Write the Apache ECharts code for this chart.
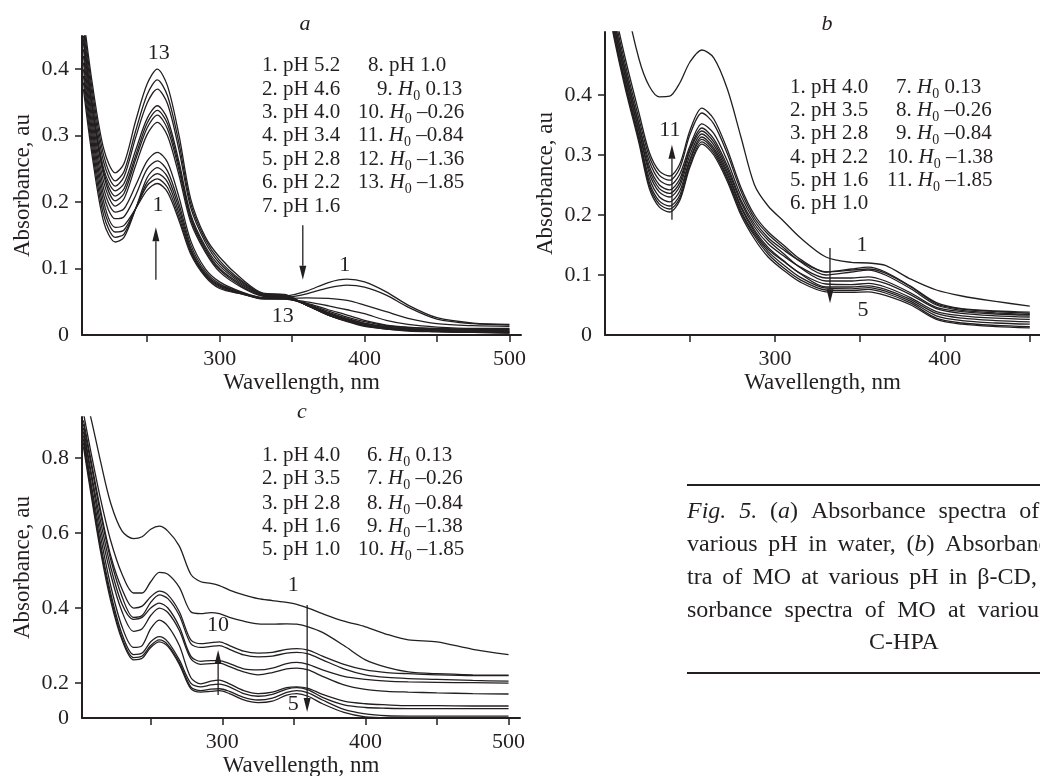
<!DOCTYPE html>
<html>
<head>
<meta charset="utf-8">
<script src="https://cdn.jsdelivr.net/npm/echarts@6/dist/echarts.min.js"></script>
<style>
  html, body { margin: 0; background: #fff; }
  #chart { width: 1040px; height: 776px; }
</style>
</head>
<body>
<div id="chart"></div>
<script>
const FONT = "'Liberation Serif', 'Times New Roman', serif";
const INK = '#231f20';

// ---- panel a: MO in water
const waveA = [206, 212, 220, 228, 234, 242, 250, 257, 264, 272, 280, 290, 300, 315, 330, 345, 360, 375, 388, 400, 415, 430, 450, 475, 500];
const condA = ['pH 5.2', 'pH 4.6', 'pH 4.0', 'pH 3.4', 'pH 2.8', 'pH 2.2', 'pH 1.6', 'pH 1.0',
  'H0 0.13', 'H0 –0.26', 'H0 –0.84', 'H0 –1.36', 'H0 –1.85'];
const absA = [
  [0.40, 0.30, 0.20, 0.162, 0.165, 0.19, 0.218, 0.228, 0.215, 0.172, 0.122, 0.088, 0.07, 0.062, 0.056, 0.058, 0.066, 0.079, 0.084, 0.080, 0.065, 0.045, 0.026, 0.018, 0.016],
  [0.39, 0.29, 0.19, 0.155, 0.158, 0.19, 0.225, 0.235, 0.222, 0.177, 0.125, 0.09, 0.072, 0.062, 0.055, 0.056, 0.062, 0.071, 0.075, 0.072, 0.06, 0.042, 0.024, 0.017, 0.015],
  [0.38, 0.28, 0.18, 0.147, 0.152, 0.19, 0.23, 0.243, 0.23, 0.183, 0.128, 0.091, 0.074, 0.063, 0.055, 0.055, 0.056, 0.055, 0.052, 0.045, 0.035, 0.025, 0.017, 0.014, 0.013],
  [0.37, 0.27, 0.17, 0.14, 0.147, 0.19, 0.237, 0.252, 0.238, 0.19, 0.131, 0.093, 0.075, 0.063, 0.054, 0.054, 0.05, 0.044, 0.038, 0.032, 0.022, 0.016, 0.012, 0.01, 0.01],
  [0.41, 0.31, 0.21, 0.175, 0.178, 0.21, 0.25, 0.262, 0.247, 0.197, 0.136, 0.096, 0.077, 0.064, 0.055, 0.054, 0.048, 0.038, 0.03, 0.022, 0.015, 0.012, 0.01, 0.009, 0.009],
  [0.42, 0.32, 0.22, 0.185, 0.19, 0.225, 0.262, 0.275, 0.26, 0.207, 0.142, 0.1, 0.08, 0.065, 0.056, 0.055, 0.047, 0.036, 0.027, 0.02, 0.014, 0.011, 0.009, 0.008, 0.008],
  [0.43, 0.33, 0.23, 0.194, 0.205, 0.255, 0.302, 0.32, 0.30, 0.24, 0.17, 0.125, 0.095, 0.072, 0.058, 0.056, 0.046, 0.034, 0.025, 0.018, 0.013, 0.01, 0.008, 0.007, 0.007],
  [0.44, 0.34, 0.24, 0.202, 0.213, 0.264, 0.312, 0.331, 0.31, 0.248, 0.175, 0.128, 0.098, 0.074, 0.059, 0.057, 0.046, 0.033, 0.024, 0.017, 0.012, 0.009, 0.007, 0.006, 0.006],
  [0.445, 0.345, 0.245, 0.209, 0.22, 0.27, 0.319, 0.338, 0.318, 0.254, 0.178, 0.131, 0.10, 0.076, 0.06, 0.058, 0.045, 0.032, 0.023, 0.016, 0.011, 0.008, 0.006, 0.005, 0.005],
  [0.45, 0.35, 0.25, 0.217, 0.228, 0.278, 0.326, 0.345, 0.325, 0.26, 0.182, 0.134, 0.104, 0.078, 0.06, 0.058, 0.045, 0.031, 0.022, 0.015, 0.01, 0.008, 0.006, 0.005, 0.004],
  [0.46, 0.36, 0.26, 0.224, 0.238, 0.297, 0.349, 0.37, 0.348, 0.278, 0.192, 0.14, 0.108, 0.08, 0.061, 0.059, 0.045, 0.03, 0.021, 0.014, 0.01, 0.007, 0.005, 0.004, 0.004],
  [0.47, 0.37, 0.27, 0.232, 0.246, 0.307, 0.362, 0.384, 0.36, 0.288, 0.198, 0.144, 0.112, 0.082, 0.062, 0.06, 0.045, 0.03, 0.021, 0.014, 0.009, 0.007, 0.005, 0.004, 0.003],
  [0.48, 0.38, 0.28, 0.244, 0.258, 0.322, 0.378, 0.40, 0.375, 0.30, 0.205, 0.148, 0.117, 0.085, 0.063, 0.061, 0.045, 0.03, 0.02, 0.013, 0.009, 0.006, 0.005, 0.004, 0.003]
];

// ---- panel b: MO in beta-CD
const waveB = [200, 205, 212, 220, 226, 232, 238, 244, 250, 257, 264, 272, 280, 288, 296, 305, 315, 330, 345, 355, 365, 380, 395, 410, 430, 450];
const condB = ['pH 4.0', 'pH 3.5', 'pH 2.8', 'pH 2.2', 'pH 1.6', 'pH 1.0',
  'H0 0.13', 'H0 –0.26', 'H0 –0.84', 'H0 –1.38', 'H0 –1.85'];
const absB = [
  [0.78, 0.68, 0.56, 0.46, 0.415, 0.397, 0.398, 0.42, 0.455, 0.475, 0.462, 0.41, 0.33, 0.25, 0.215, 0.19, 0.162, 0.13, 0.121, 0.12, 0.116, 0.093, 0.075, 0.065, 0.056, 0.048],
  [0.61, 0.53, 0.44, 0.35, 0.29, 0.258, 0.25, 0.268, 0.315, 0.352, 0.336, 0.29, 0.232, 0.19, 0.162, 0.142, 0.123, 0.105, 0.108, 0.11, 0.103, 0.08, 0.052, 0.043, 0.039, 0.036],
  [0.6, 0.52, 0.43, 0.34, 0.276, 0.244, 0.236, 0.254, 0.307, 0.34, 0.322, 0.277, 0.221, 0.18, 0.152, 0.132, 0.113, 0.095, 0.095, 0.097, 0.09, 0.07, 0.046, 0.039, 0.035, 0.033],
  [0.59, 0.51, 0.42, 0.33, 0.262, 0.23, 0.222, 0.24, 0.293, 0.33, 0.312, 0.268, 0.212, 0.172, 0.143, 0.123, 0.103, 0.085, 0.084, 0.086, 0.08, 0.062, 0.039, 0.032, 0.028, 0.026],
  [0.58, 0.5, 0.41, 0.32, 0.245, 0.213, 0.205, 0.224, 0.28, 0.318, 0.3, 0.256, 0.2, 0.16, 0.13, 0.108, 0.088, 0.072, 0.071, 0.072, 0.066, 0.05, 0.026, 0.018, 0.014, 0.012],
  [0.585, 0.505, 0.415, 0.325, 0.25, 0.218, 0.21, 0.228, 0.284, 0.322, 0.304, 0.26, 0.204, 0.165, 0.135, 0.112, 0.092, 0.075, 0.074, 0.076, 0.07, 0.053, 0.028, 0.02, 0.016, 0.014],
  [0.59, 0.51, 0.42, 0.33, 0.255, 0.223, 0.215, 0.233, 0.29, 0.326, 0.308, 0.263, 0.207, 0.168, 0.139, 0.117, 0.096, 0.078, 0.077, 0.079, 0.073, 0.056, 0.032, 0.024, 0.02, 0.018],
  [0.6, 0.52, 0.43, 0.34, 0.27, 0.238, 0.23, 0.248, 0.3, 0.335, 0.317, 0.272, 0.215, 0.175, 0.146, 0.124, 0.102, 0.08, 0.08, 0.082, 0.076, 0.059, 0.036, 0.028, 0.024, 0.022],
  [0.61, 0.53, 0.44, 0.35, 0.282, 0.25, 0.242, 0.26, 0.31, 0.345, 0.327, 0.282, 0.225, 0.185, 0.158, 0.136, 0.112, 0.09, 0.09, 0.092, 0.086, 0.067, 0.044, 0.036, 0.032, 0.03],
  [0.62, 0.54, 0.45, 0.36, 0.298, 0.266, 0.258, 0.278, 0.334, 0.37, 0.352, 0.302, 0.24, 0.195, 0.168, 0.146, 0.122, 0.1, 0.105, 0.108, 0.1, 0.077, 0.05, 0.041, 0.037, 0.034],
  [0.63, 0.55, 0.46, 0.37, 0.305, 0.273, 0.265, 0.285, 0.341, 0.378, 0.36, 0.309, 0.246, 0.2, 0.172, 0.15, 0.126, 0.105, 0.11, 0.113, 0.105, 0.081, 0.054, 0.044, 0.04, 0.038]
];

// ---- panel c: MO in C-HPA
const waveC = [203, 208, 215, 222, 230, 238, 244, 250, 256, 262, 270, 278, 285, 292, 298, 305, 315, 325, 335, 345, 352, 360, 370, 385, 400, 415, 430, 450, 475, 500];
const condC = ['pH 4.0', 'pH 3.5', 'pH 2.8', 'pH 1.6', 'pH 1.0',
  'H0 0.13', 'H0 –0.26', 'H0 –0.84', 'H0 –1.38', 'H0 –1.85'];
const absC = [
  [0.98, 0.91, 0.79, 0.68, 0.605, 0.585, 0.59, 0.61, 0.618, 0.605, 0.565, 0.49, 0.47, 0.466, 0.46, 0.448, 0.435, 0.425, 0.42, 0.415, 0.41, 0.4, 0.385, 0.365, 0.35, 0.33, 0.315, 0.31, 0.29, 0.276],
  [0.92, 0.82, 0.69, 0.58, 0.49, 0.44, 0.44, 0.47, 0.495, 0.49, 0.455, 0.39, 0.385, 0.388, 0.385, 0.375, 0.365, 0.358, 0.357, 0.358, 0.357, 0.35, 0.335, 0.3, 0.262, 0.242, 0.23, 0.225, 0.222, 0.221],
  [0.88, 0.77, 0.63, 0.51, 0.41, 0.37, 0.375, 0.4, 0.413, 0.4, 0.35, 0.272, 0.258, 0.26, 0.26, 0.252, 0.238, 0.235, 0.24, 0.252, 0.255, 0.25, 0.235, 0.218, 0.21, 0.205, 0.203, 0.202, 0.201, 0.2],
  [0.87, 0.76, 0.61, 0.49, 0.39, 0.338, 0.345, 0.38, 0.4, 0.388, 0.34, 0.265, 0.25, 0.252, 0.253, 0.244, 0.23, 0.222, 0.228, 0.238, 0.24, 0.235, 0.218, 0.195, 0.183, 0.178, 0.176, 0.174, 0.172, 0.171],
  [0.83, 0.71, 0.55, 0.42, 0.315, 0.262, 0.266, 0.295, 0.31, 0.298, 0.25, 0.185, 0.176, 0.178, 0.18, 0.172, 0.155, 0.148, 0.152, 0.168, 0.172, 0.165, 0.145, 0.122, 0.11, 0.108, 0.108, 0.108, 0.108, 0.108],
  [0.84, 0.72, 0.56, 0.43, 0.32, 0.268, 0.272, 0.3, 0.315, 0.302, 0.255, 0.19, 0.18, 0.184, 0.185, 0.178, 0.162, 0.155, 0.16, 0.175, 0.18, 0.174, 0.155, 0.13, 0.118, 0.113, 0.112, 0.112, 0.112, 0.112],
  [0.85, 0.73, 0.57, 0.44, 0.33, 0.276, 0.28, 0.31, 0.324, 0.31, 0.262, 0.2, 0.19, 0.195, 0.197, 0.19, 0.172, 0.165, 0.17, 0.184, 0.188, 0.182, 0.162, 0.142, 0.135, 0.133, 0.132, 0.132, 0.132, 0.132],
  [0.86, 0.74, 0.59, 0.46, 0.35, 0.295, 0.3, 0.345, 0.368, 0.352, 0.3, 0.215, 0.198, 0.205, 0.208, 0.198, 0.18, 0.172, 0.176, 0.188, 0.19, 0.186, 0.17, 0.152, 0.145, 0.142, 0.14, 0.14, 0.139, 0.139],
  [0.89, 0.79, 0.65, 0.53, 0.43, 0.375, 0.38, 0.415, 0.435, 0.425, 0.38, 0.305, 0.295, 0.298, 0.3, 0.29, 0.275, 0.27, 0.272, 0.28, 0.282, 0.278, 0.262, 0.238, 0.222, 0.215, 0.212, 0.21, 0.207, 0.205],
  [0.9, 0.8, 0.66, 0.54, 0.45, 0.4, 0.405, 0.43, 0.445, 0.435, 0.39, 0.315, 0.305, 0.308, 0.31, 0.3, 0.285, 0.28, 0.282, 0.29, 0.292, 0.288, 0.272, 0.25, 0.235, 0.228, 0.225, 0.222, 0.22, 0.22]
];

// axis ticks / labels
const xTicks = [250, 300, 350, 400, 450, 500];
const xLabelsAC = [300, 400, 500];
const xLabelsB = [300, 400];
const yTicksAB = [0, 0.1, 0.2, 0.3, 0.4];
const yTicksC = [0.107, 0.2, 0.4, 0.6, 0.8]; // the printed "0" sits below 0.2 by less than a full step

// curve numbers and arrows, in data units [nm, absorbance]
const notesA = [['13', 258, 0.424], ['1', 257.4, 0.195], ['1', 386.4, 0.105], ['13', 343.6, 0.029]];
const arrowsA = [[256, 0.083, 256, 0.162], [357.4, 0.165, 357.4, 0.083]];
const notesB = [['11', 238.2, 0.342], ['1', 351.2, 0.15], ['5', 351.8, 0.042]];
const arrowsB = [[239.4, 0.192, 239.4, 0.317], [332.4, 0.145, 332.4, 0.053]];
const notesC = [['1', 349.6, 0.461], ['5', 349.6, 0.144], ['10', 297.1, 0.355]];
const arrowsC = [[359.3, 0.408, 359.3, 0.123], [297.1, 0.168, 297.1, 0.288]];

const captionLines = [
  '*Fig.* *5.* (*a*) Absorbance spectra of MO at',
  'various pH in water, (*b*) Absorbance spec-',
  'tra of MO at various pH in β-CD, (*c*) Ab-',
  'sorbance spectra of MO at various pH in'
];
const captionLast = 'C-HPA';

const chart = echarts.init(document.getElementById('chart'));

function xAxis(idx, min, max, labels) {
  return {
    type: 'value', gridIndex: idx, min: min, max: max,
    name: 'Wavellength, nm', nameLocation: 'middle', nameGap: 36,
    nameTextStyle: { fontFamily: FONT, fontSize: 23, color: INK },
    axisLine: { onZero: false, lineStyle: { color: INK, width: 2 } },
    axisTick: { customValues: xTicks, length: 7, lineStyle: { color: INK, width: 1.5 } },
    axisLabel: { customValues: labels, margin: 13, fontFamily: FONT, fontSize: 22, color: INK },
    splitLine: { show: false }
  };
}

function yAxis(idx, min, max, ticks) {
  return {
    type: 'value', gridIndex: idx, min: min, max: max,
    name: 'Absorbance, au', nameLocation: 'middle', nameGap: 48, nameRotate: 90,
    nameTextStyle: { fontFamily: FONT, fontSize: 23, color: INK },
    axisLine: { onZero: false, lineStyle: { color: INK, width: 2 } },
    axisTick: { customValues: ticks.slice(1), length: 7, lineStyle: { color: INK, width: 1.5 } },
    axisLabel: {
      customValues: ticks, margin: 13, fontFamily: FONT, fontSize: 22, color: INK,
      formatter: v => (v === ticks[0] ? '0' : v.toFixed(1))
    },
    splitLine: { show: false }
  };
}

function curves(wave, rows, conds, idx) {
  return rows.map((row, i) => ({
    type: 'line', name: conds[i], xAxisIndex: idx, yAxisIndex: idx,
    data: row.map((v, j) => [wave[j], v]),
    smooth: 0.3, symbol: 'none', silent: true, clip: true,
    lineStyle: { color: INK, width: 1.3 }
  }));
}

chart.setOption({
  animation: false,
  backgroundColor: '#fff',
  grid: [
    { left: 82, top: 36, width: 439, height: 299, outerBoundsMode: 'none' },
    { left: 605, top: 32, width: 435, height: 303, outerBoundsMode: 'none' },
    { left: 82, top: 417, width: 438, height: 301, outerBoundsMode: 'none' }
  ],
  xAxis: [xAxis(0, 205, 508, xLabelsAC), xAxis(1, 200, 456, xLabelsB), xAxis(2, 202, 508, xLabelsAC)],
  yAxis: [yAxis(0, 0, 0.45, yTicksAB), yAxis(1, 0, 0.505, yTicksAB), yAxis(2, 0.107, 0.909, yTicksC)],
  series: [].concat(curves(waveA, absA, condA, 0), curves(waveB, absB, condB, 1), curves(waveC, absC, condC, 2))
});

// ---- annotations, legends, caption
const ctx = document.createElement('canvas').getContext('2d');
function textWidth(s, size, italic) {
  ctx.font = (italic ? 'italic ' : '') + size + 'px ' + FONT;
  return ctx.measureText(s).width;
}
function txt(s, x, y, size, italic, align) {
  return {
    type: 'text', x: x, y: y, silent: true,
    style: { text: s, fontFamily: FONT, fontSize: size, fontStyle: italic ? 'italic' : 'normal',
      fill: INK, align: align || 'left', verticalAlign: 'middle' }
  };
}

const g = [];
const LEG = 21, SUB = 14;

function legendEntry(x, y, num, cond) {
  const put = (s, size, italic, dy) => {
    g.push(txt(s, x, y + (dy || 0), size, italic));
    x += textWidth(s, size, italic);
  };
  put(num + '. ', LEG, false);
  if (cond.startsWith('H0')) {
    put('H', LEG, true);
    put('0', SUB, false, 7);
    put(cond.slice(2), LEG, false);
  } else {
    put(cond, LEG, false);
  }
}

function legendBlock(conds, split, col1x, rows, col2x) {
  conds.forEach((c, i) => {
    if (i < split) legendEntry(col1x, rows[i], i + 1, c);
    else legendEntry(col2x[i - split], rows[i - split], i + 1, c);
  });
}
legendBlock(condA, 7, 262, [65, 89, 112, 135, 159, 182, 206], [368, 377, 358, 358, 358, 358]);
legendBlock(condB, 6, 790, [87, 110, 133, 157, 180, 203], [896, 896, 896, 887, 887]);
legendBlock(condC, 5, 262, [455, 478, 503, 526, 549], [367, 367, 367, 367, 358]);

g.push(txt('a', 305, 24, 22, true, 'center'));
g.push(txt('b', 827, 24, 22, true, 'center'));
g.push(txt('c', 302, 412, 22, true, 'center'));

function annotate(gridIndex, notes, arrows) {
  notes.forEach(n => {
    const p = chart.convertToPixel({ gridIndex: gridIndex }, [n[1], n[2]]);
    g.push(txt(n[0], p[0], p[1], 22, false, 'center'));
  });
  arrows.forEach(a => {
    const t = chart.convertToPixel({ gridIndex: gridIndex }, [a[0], a[1]]);
    const h = chart.convertToPixel({ gridIndex: gridIndex }, [a[2], a[3]]);
    const dir = h[1] < t[1] ? 1 : -1;  // 1 = pointing up
    const base = h[1] + dir * 14;
    g.push({ type: 'line', silent: true, shape: { x1: t[0], y1: t[1], x2: h[0], y2: base },
      style: { stroke: INK, lineWidth: 1.3 } });
    g.push({ type: 'polygon', silent: true,
      shape: { points: [[h[0], h[1]], [h[0] - 3.5, base], [h[0] + 3.5, base]] },
      style: { fill: INK } });
  });
}
annotate(0, notesA, arrowsA);
annotate(1, notesB, arrowsB);
annotate(2, notesC, arrowsC);

// caption, justified like the printed block
const CAP = 24, CAP_LEFT = 687, CAP_WIDTH = 434;
const capY = [512, 545, 578, 611];
captionLines.forEach((line, li) => {
  const words = line.split(' ').map(w => w.split('*'));
  const widths = words.map(p => p.reduce((s, seg, k) => s + textWidth(seg, CAP, k % 2 === 1), 0));
  const total = widths.reduce((a, b) => a + b, 0);
  const gap = (CAP_WIDTH - total) / (words.length - 1);
  let x = CAP_LEFT;
  words.forEach((p, i) => {
    let cx = x;
    p.forEach((seg, k) => {
      if (!seg) return;
      g.push(txt(seg, cx, capY[li], CAP, k % 2 === 1));
      cx += textWidth(seg, CAP, k % 2 === 1);
    });
    x += widths[i] + gap;
  });
});
g.push(txt(captionLast, CAP_LEFT + CAP_WIDTH / 2, 643, CAP, false, 'center'));
g.push({ type: 'line', silent: true, shape: { x1: 687, y1: 485, x2: 1040, y2: 485 }, style: { stroke: INK, lineWidth: 2 } });
g.push({ type: 'line', silent: true, shape: { x1: 687, y1: 673, x2: 1040, y2: 673 }, style: { stroke: INK, lineWidth: 2 } });

chart.setOption({ graphic: g });
</script>
</body>
</html>
